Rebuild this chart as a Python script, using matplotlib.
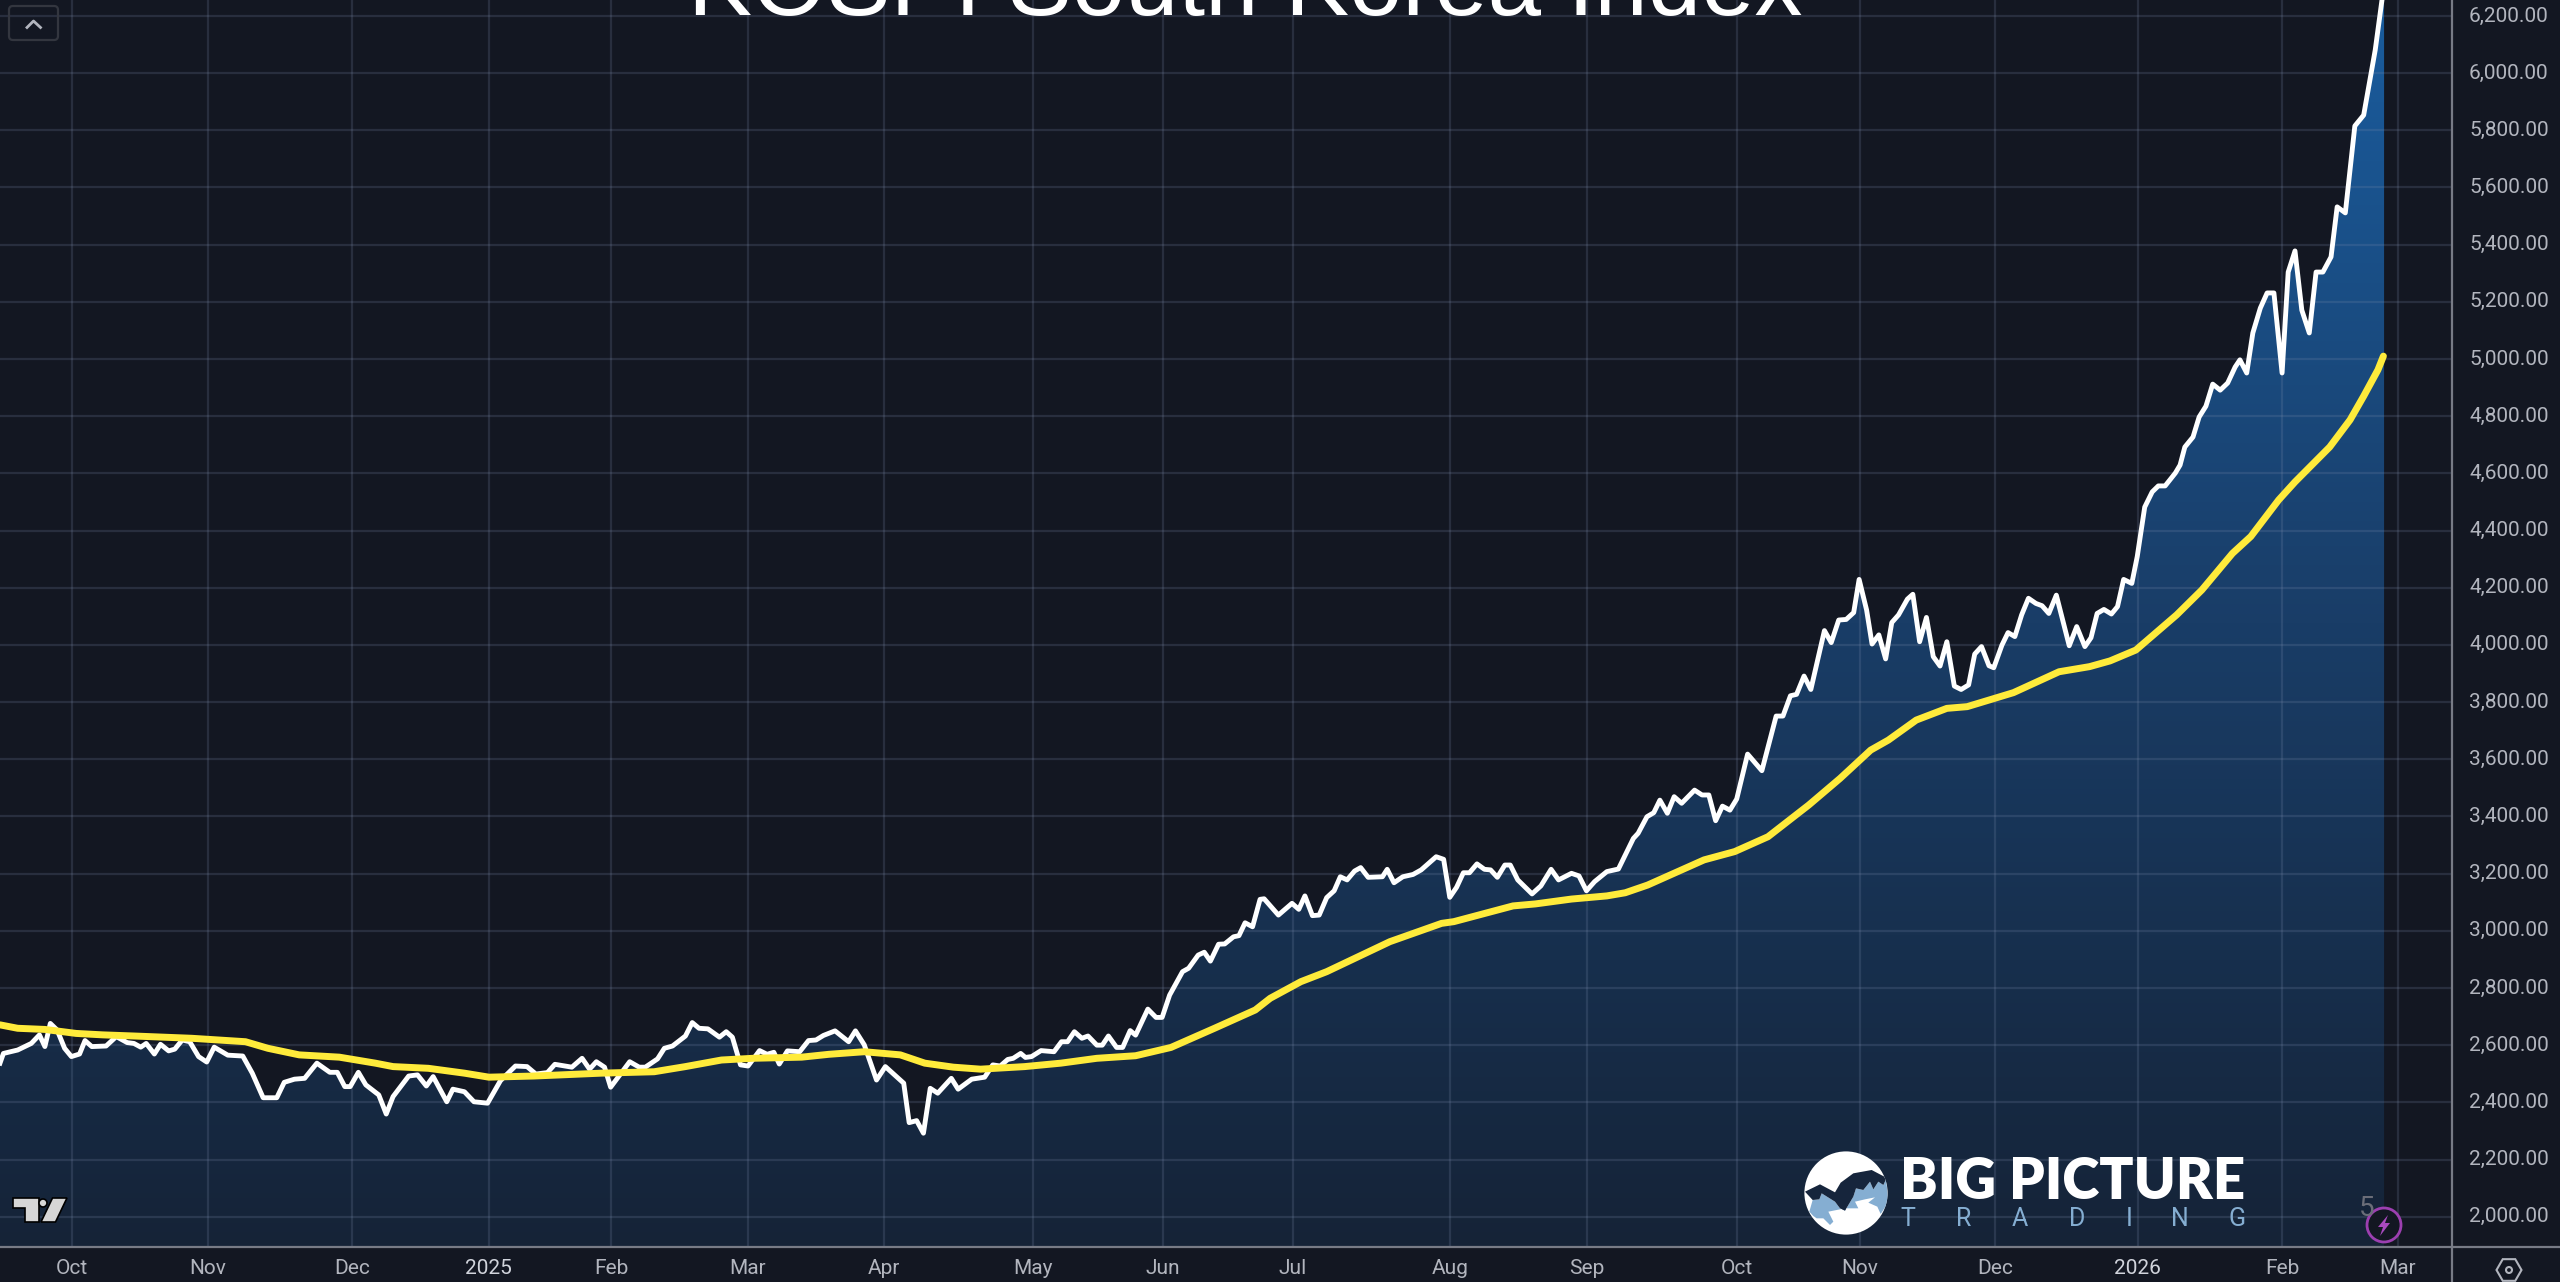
#!/usr/bin/env python3
"""KOSPI South Korea Index, line with moving average on a dark TradingView pane."""

import matplotlib
matplotlib.use("Agg")
import matplotlib.pyplot as plt
import numpy as np
from matplotlib.colors import LinearSegmentedColormap
from matplotlib.patches import Circle, FancyBboxPatch, Polygon, RegularPolygon

# x is the trading session number (the chart is bar-indexed, not calendar-spaced)
kospi_sessions = [
    0, 0.5, 2.6, 4.6, 5.8, 6.6, 7.4, 8.4, 9.5, 10.5, 11.7, 12.5, 13.5, 15.6, 17.1, 18.7, 19.7, 20.7, 21.5, 22.7,
    23.6, 24.8, 25.7, 26.8, 27.9, 29.2, 30.4, 31.5, 33.5, 35.7, 37.1, 38.7, 40.7, 41.8, 43.3, 44.8, 46.6, 48.5,
    49.6, 50.7, 51.5, 52.7, 53.8, 55.7, 56.8, 57.8, 60.1, 61.4, 62.7, 63.7, 65.7, 66.6, 68.3, 69.7, 71.7,
    73.6, 75.8, 77.5, 78.8, 80.5, 81.6, 84.1, 85.6, 86.7, 87.7, 88.9, 89.8, 92.6, 94.0, 94.9, 96.7, 97.7, 98.9,
    100.8, 101.8, 102.8, 104.1, 105.8, 106.8, 107.7, 108.9, 110.0, 111.7, 112.8, 113.8, 114.6, 115.8, 117.6,
    118.9, 120.0, 121.1, 122.8, 124.8, 125.8, 127.1, 128.9, 130.2, 132.9, 133.7, 134.8, 135.8, 136.8, 137.9,
    139.9, 140.9, 142.9, 144.8, 146.0, 147.1,
    148.2, 149.0, 150.1, 150.8, 151.7, 153.1, 155.0, 156.1, 157.0, 158.0, 159.1, 160.0, 161.3, 162.1, 163.0,
    164.2, 165.1, 166.2, 167.0, 168.8, 170.0, 170.9, 172.0, 173.9, 174.8, 176.2, 177.1, 178.0, 179.2, 180.1,
    181.4, 182.2, 183.1, 184.2, 185.3, 185.9, 188.0, 190.0, 191.0, 191.9, 193.0, 194.0, 195.1, 196.2, 197.1,
    198.1, 199.2, 200.1, 201.2, 203.3, 204.0, 205.0, 206.3, 207.8, 209.0, 211.2, 212.3, 213.2, 214.2, 215.2,
    216.1, 217.2, 218.3, 219.2, 220.2, 221.3, 222.1, 223.2, 225.3, 226.6, 228.1, 229.2, 231.1, 232.2, 233.3,
    234.5, 236.3, 238.0,
    240.2, 240.9, 242.2, 243.2, 244.1, 245.2, 246.2, 247.3, 249.2, 250.3, 251.3, 252.3, 253.3, 254.4, 255.4,
    257.0, 259.1, 261.2, 262.2, 263.3, 264.2, 265.3, 266.3, 268.3, 269.3, 270.4, 271.5, 272.6, 273.4, 274.5,
    275.3, 276.3, 277.3, 278.2, 279.2, 280.5, 281.3, 282.3, 283.3, 284.3, 285.3, 286.3, 287.4, 288.4, 289.5,
    290.4, 291.4, 292.5, 293.2, 294.4, 295.3, 296.3, 297.3, 298.3, 299.4, 300.3, 301.3, 302.4, 304.3, 305.4,
    306.6, 307.5, 308.4, 309.4, 310.5, 311.4, 312.3, 313.5, 314.3, 315.4,
    316.5, 317.4, 318.4, 319.9, 320.6, 321.3, 322.5, 323.4, 324.4, 325.4, 326.5, 327.6, 328.7, 329.4, 330.4,
    331.3, 332.4, 333.4, 334.4, 335.6, 336.5, 337.5, 338.5, 339.6, 340.6, 341.6, 342.8, 343.7, 344.9, 346.3,
    347.6, 349.3, 350.6,
]
kospi_close = [
    2537, 2571, 2583, 2606, 2636, 2595, 2676, 2653, 2589, 2560, 2569, 2616, 2595, 2597, 2630, 2609, 2606, 2593, 2606, 2569,
    2603, 2580, 2586, 2618, 2612, 2560, 2541, 2593, 2565, 2562, 2502, 2416, 2416, 2470, 2481, 2484, 2537, 2505,
    2505, 2455, 2455, 2505, 2461, 2426, 2359, 2420, 2492, 2496, 2457, 2490, 2402, 2446, 2437, 2402, 2397,
    2476, 2527, 2525, 2499, 2504, 2533, 2523, 2554, 2516, 2542, 2523, 2453, 2542, 2523, 2523, 2552, 2589, 2597,
    2632, 2679, 2659, 2657, 2628, 2647, 2628, 2531, 2527, 2581, 2568, 2575, 2534, 2580, 2577,
    2616, 2618, 2634, 2650, 2612, 2650, 2601, 2478, 2525, 2467, 2329, 2336, 2292, 2449, 2432,
    2484, 2446, 2481, 2488, 2531, 2527,
    2550, 2554, 2571, 2557, 2560, 2581, 2577, 2612, 2612, 2647, 2624, 2632, 2600, 2600, 2632,
    2592, 2592, 2651, 2635, 2726, 2697, 2697, 2775, 2857, 2869, 2915, 2925, 2894, 2953, 2954,
    2979, 2983, 3028, 3014, 3110, 3112, 3055, 3096, 3075, 3122, 3053, 3055, 3116, 3140, 3189,
    3178, 3209, 3221, 3187, 3189, 3215, 3168, 3189, 3197, 3213, 3259, 3250, 3117, 3152, 3203,
    3203, 3234, 3215, 3213, 3187, 3230, 3230, 3178, 3129, 3157, 3215, 3178, 3201, 3192, 3140,
    3172, 3207, 3216,
    3323, 3341, 3399, 3413, 3457, 3411, 3469, 3446, 3492, 3475, 3475, 3385, 3436, 3422, 3461,
    3618, 3560, 3751, 3751, 3822, 3827, 3891, 3844, 4050, 4008, 4087, 4089, 4113, 4229, 4122,
    4003, 4035, 3951, 4078, 4105, 4160, 4177, 4011, 4096, 3959, 3926, 4011, 3856, 3844, 3860,
    3968, 3994, 3927, 3920, 3999, 4043, 4029, 4105, 4163, 4145, 4137, 4110, 4174, 3997, 4064,
    3994, 4025, 4110, 4124, 4108, 4134, 4229, 4215, 4309, 4482,
    4535, 4556, 4556, 4601, 4629, 4692, 4727, 4797, 4835, 4912, 4891, 4916, 4972, 4997, 4951,
    5091, 5178, 5231, 5231, 4951, 5304, 5378, 5171, 5091, 5304, 5304, 5357, 5532, 5511, 5815,
    5853, 6081, 6310,
]

ma_sessions = [
    0, 2.6, 6.6, 11.2, 15.1, 19.7, 28.2, 36.1, 39.4, 44.0, 49.9, 55.2, 57.8, 63.0, 68.3, 71.9,
    78.5, 88.4, 96.2, 100.8, 106.1, 110.7, 117.9, 121.9, 127.1, 132.4, 136.0, 140.2, 144.2, 150.7, 156.0, 161.3,
    167.0, 172.2, 178.6, 184.6, 186.8, 191.3, 195.1, 204.4, 212.0, 213.8, 222.5, 225.8, 231.1, 236.3, 239.0,
    242.3, 250.6, 255.1, 260.0, 266.0, 270.6, 275.1, 277.7, 281.8, 286.3, 289.3, 296.1, 302.8, 307.3, 310.3,
    314.1, 320.1, 323.8, 328.3, 331.0, 335.1, 337.5, 342.6, 345.6, 347.6, 349.7, 350.5,
]
ma_value = [
    2671, 2659, 2655, 2641, 2636, 2632, 2624, 2612, 2589, 2566, 2558, 2537, 2525, 2519, 2502, 2488,
    2492, 2502, 2507, 2525, 2548, 2554, 2558, 2568, 2577, 2566, 2537, 2523, 2516, 2525, 2537, 2554,
    2563, 2592, 2659, 2723, 2764, 2822, 2857, 2962, 3026, 3032, 3087, 3094, 3111, 3122, 3133,
    3160, 3248, 3277, 3329, 3440, 3533, 3632, 3667, 3737, 3778, 3784, 3833, 3906, 3924, 3944,
    3982, 4105, 4192, 4320, 4379, 4507, 4570, 4692, 4787, 4870, 4962, 5010,
]

price_ticks = [2000, 2200, 2400, 2600, 2800, 3000, 3200, 3400, 3600, 3800, 4000, 4200, 4400, 4600, 4800, 5000,
               5200, 5400, 5600, 5800, 6000, 6200]
time_ticks = [10.6, 30.6, 51.8, 71.9, 89.9, 110.0, 130.0, 151.9, 171.0, 190.1, 213.2, 233.4, 255.4, 273.5, 293.4,
              314.4, 335.6, 352.6]
time_labels = ["Oct", "Nov", "Dec", "2025", "Feb", "Mar", "Apr", "May", "Jun", "Jul", "Aug", "Sep", "Oct", "Nov",
               "Dec", "2026", "Feb", "Mar"]

BG = "#131722"
TEXT = "#b2b5be"
W, H = 2560, 1282
PANE_R, PANE_B = 2452, 1247

fig = plt.figure(figsize=(W / 100, H / 100), dpi=100, facecolor=BG)
ax = fig.add_axes([0, 1 - PANE_B / H, PANE_R / W, PANE_B / H], facecolor=BG)
ax.set_xlim(0, PANE_R / 6.8)
ax.set_ylim(1894, 6255.6)
for spine in ax.spines.values():
    spine.set_visible(False)
ax.set_xticks(time_ticks)
ax.set_yticks(price_ticks)
ax.tick_params(length=0, labelbottom=False, labelleft=False)

# gradient area under the index
cmap = LinearSegmentedColormap.from_list("area", ["#152337", "#193d67", "#1a5c9e"])
gradient = np.linspace(1, 0, 256).reshape(-1, 1)
im = ax.imshow(gradient, cmap=cmap, aspect="auto", extent=[0, PANE_R / 6.8, 1894, 6255.6], zorder=1)
area = ax.fill_between(kospi_sessions, kospi_close, 1894, facecolor="none", edgecolor="none")
im.set_clip_path(area.get_paths()[0], transform=ax.transData)

ax.grid(True, color="#7f8fb0", alpha=0.2, linewidth=1.6, zorder=2)
ax.set_axisbelow(False)

ax.plot(kospi_sessions, kospi_close, color="white", linewidth=3.5, solid_joinstyle="round", zorder=3)
ax.plot(ma_sessions, ma_value, color="#ffeb3b", linewidth=5, solid_capstyle="round", zorder=4)

# everything else is placed in picture pixels
ov = fig.add_axes([0, 0, 1, 1], facecolor="none")
ov.set_xlim(0, W)
ov.set_ylim(H, 0)
ov.axis("off")

ov.plot([0, W], [PANE_B, PANE_B], color="#787b86", linewidth=1.6)
ov.plot([PANE_R, PANE_R], [0, H], color="#787b86", linewidth=1.6)

for value in price_ticks:
    ypx = PANE_B - (value - 1894) / (6255.6 - 1894) * PANE_B
    ov.text(2469, ypx, f"{value:,.2f}", color=TEXT, fontsize=15, family="Roboto", va="center", ha="left")
for session, label in zip(time_ticks, time_labels):
    bold = label in ("2025", "2026")
    ov.text(session * 6.8, 1269, label, color="#d1d4dc" if bold else TEXT, fontsize=15, family="Roboto",
            va="center", ha="center")

ov.text(1245, 15, "KOSPI South Korea Index", color="white", fontsize=69, family="Liberation Sans",
        ha="center", va="baseline")

# collapse button, top left
ov.add_patch(FancyBboxPatch((13, 10), 41, 26, boxstyle="round,pad=4,rounding_size=4", facecolor="none",
                            edgecolor="#33363f", linewidth=1.6))
ov.plot([27, 33.5, 40.5], [27.5, 21, 27.5], color=TEXT, linewidth=2)

# TradingView mark
tv_style = dict(facecolor="#d6d6d6", edgecolor="black", linewidth=1.2)
ov.add_patch(Polygon([(13, 1198), (39, 1198), (39, 1222), (25, 1222), (25, 1208), (13, 1208)], **tv_style))
ov.add_patch(Circle((43, 1203), 4, **tv_style))
ov.add_patch(Polygon([(52.5, 1198), (67, 1198), (55.5, 1222), (41, 1222)], **tv_style))

# Big Picture Trading logo
disc = Circle((1846, 1193), 41.6, facecolor="white", edgecolor="none")
ov.add_patch(disc)
light_pts = [(58, 215), (68, 180), (88, 178), (95, 160), (135, 185), (150, 205), (165, 212), (190, 170), (198, 145),
             (220, 150), (240, 125), (250, 148), (265, 125), (280, 135), (288, 118), (296, 185), (272, 222), (262, 200),
             (235, 188), (255, 172), (225, 178), (195, 185), (205, 205), (165, 205), (115, 215), (130, 245), (120, 255),
             (100, 235), (80, 235), (70, 228)]
dark_pts = [(45, 155), (90, 133), (135, 157), (152, 128), (190, 100), (245, 90), (283, 110), (288, 118), (280, 135),
            (265, 125), (250, 148), (240, 125), (220, 150), (198, 145), (190, 170), (165, 212), (150, 205), (135, 185),
            (95, 160), (88, 178), (68, 180)]
for pts, colour in ((light_pts, "#85aed2"), (dark_pts, "#16253c")):
    shape = Polygon([(1790 + x / 3, 1140 + y / 3) for x, y in pts], facecolor=colour, edgecolor="none")
    ov.add_patch(shape)
    shape.set_clip_path(disc)

ov.text(2073, 1199, "BIG PICTURE", color="white", fontsize=40.5, family="Lato", weight="heavy", ha="center",
        va="baseline")
for letter, xpx in zip("TRADING", [1907.5, 1964, 2020, 2077, 2129, 2180, 2237]):
    ov.text(xpx, 1226, letter, color="#85aed2", fontsize=18, family="Roboto", weight="normal", ha="center",
            va="baseline")

# marker in the bottom right corner of the pane
ov.text(2367, 1208, "5", color="#6a6d78", fontsize=20, family="Roboto", ha="center", va="center")
ov.add_patch(Circle((2384, 1225), 17, facecolor=BG, edgecolor="#9c3fb0", linewidth=2))
ov.add_patch(Polygon([(2388, 1215), (2378, 1227), (2383, 1227), (2380, 1236), (2390, 1223), (2385, 1223)],
                     facecolor="#a94ac0", edgecolor="none"))

# settings button
ov.add_patch(RegularPolygon((2509, 1270), 6, radius=12.5, orientation=np.pi / 2, facecolor="none", edgecolor=TEXT,
                            linewidth=1.5))
ov.add_patch(Circle((2509, 1270), 3, facecolor="none", edgecolor=TEXT, linewidth=1.5))

fig.savefig("out.png", dpi=100, facecolor=BG)
plt.close(fig)
